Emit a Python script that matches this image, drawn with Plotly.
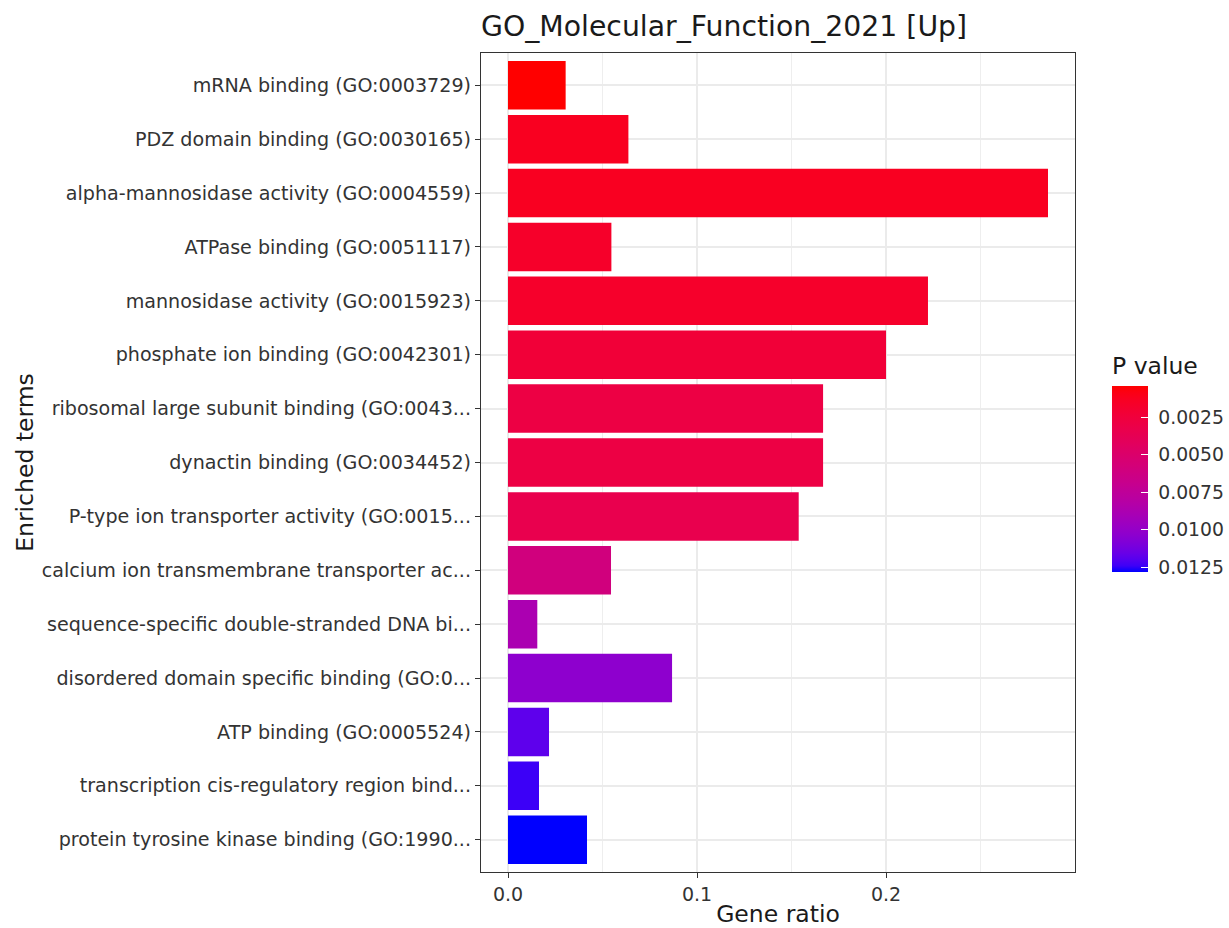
import numpy as np
import plotly.graph_objects as go

# ---------------- data ----------------
terms = [
    "mRNA binding (GO:0003729)",
    "PDZ domain binding (GO:0030165)",
    "alpha-mannosidase activity (GO:0004559)",
    "ATPase binding (GO:0051117)",
    "mannosidase activity (GO:0015923)",
    "phosphate ion binding (GO:0042301)",
    "ribosomal large subunit binding (GO:0043...",
    "dynactin binding (GO:0034452)",
    "P-type ion transporter activity (GO:0015...",
    "calcium ion transmembrane transporter ac...",
    "sequence-specific double-stranded DNA bi...",
    "disordered domain specific binding (GO:0...",
    "ATP binding (GO:0005524)",
    "transcription cis-regulatory region bind...",
    "protein tyrosine kinase binding (GO:1990...",
]
gene_ratio = [0.0305, 0.0637, 0.2857, 0.0547, 0.2222, 0.2000, 0.1667, 0.1667,
              0.1538, 0.0545, 0.0155, 0.0868, 0.0217, 0.0164, 0.0418]
p_value = [0.00043, 0.00125, 0.00130, 0.00168, 0.00172, 0.00230, 0.00290, 0.00292,
           0.00345, 0.00600, 0.00880, 0.01030, 0.01180, 0.01240, 0.01280]
cbar_ticks = [0.0025, 0.0050, 0.0075, 0.0100, 0.0125]
x_ticks = [0.0, 0.1, 0.2]

# ------------- Lab colour ramp (like ggplot's scale_fill_gradient) -------------
def _srgb_to_lin(c):
    c = np.asarray(c, float)
    return np.where(c <= 0.04045, c / 12.92, ((c + 0.055) / 1.055) ** 2.4)

def _lin_to_srgb(c):
    c = np.clip(c, 0, 1)
    return np.where(c <= 0.0031308, 12.92 * c, 1.055 * c ** (1 / 2.4) - 0.055)

M = np.array([[0.4124, 0.3576, 0.1805], [0.2126, 0.7152, 0.0722], [0.0193, 0.1192, 0.9505]])
Minv = np.linalg.inv(M)
WP = np.array([0.95047, 1.0, 1.08883])

def rgb_to_lab(rgb):
    xyz = M @ _srgb_to_lin(np.array(rgb) / 255.0) / WP
    f = np.where(xyz > 0.008856, np.cbrt(xyz), 7.787 * xyz + 16 / 116)
    return np.array([116 * f[1] - 16, 500 * (f[0] - f[1]), 200 * (f[1] - f[2])])

def lab_to_rgb(lab):
    fy = (lab[0] + 16) / 116
    fx = fy + lab[1] / 500
    fz = fy - lab[2] / 200
    f = np.array([fx, fy, fz])
    xyz = np.where(f ** 3 > 0.008856, f ** 3, (f - 16 / 116) / 7.787) * WP
    rgb = _lin_to_srgb(Minv @ xyz)
    r, g, b = (np.round(rgb * 255)).astype(int)
    return f"rgb({r},{g},{b})"

lab_blue = rgb_to_lab([0, 0, 255])
lab_red = rgb_to_lab([255, 0, 0])
n = 31
colorscale = [[i / (n - 1), lab_to_rgb(lab_blue + (lab_red - lab_blue) * i / (n - 1))] for i in range(n)]

# reversed colour axis (low p at top) -> use negative p for the colour channel
neg_p = [-v for v in p_value]

FONT = "DejaVu Sans"
fig = go.Figure()
fig.add_trace(go.Bar(
    x=gene_ratio,
    y=terms,
    orientation="h",
    width=0.9,
    marker=dict(
        color=neg_p,
        colorscale=colorscale,
        cmin=-max(p_value),
        cmax=-min(p_value),
        line=dict(width=0),
        colorbar=dict(
            title=dict(text="P value", side="top", font=dict(family=FONT, size=23.5, color="#1a1a1a")),
            tickvals=[-t for t in cbar_ticks],
            ticktext=["\u00a0" + f"{t:.4f}" for t in cbar_ticks],
            ticks="inside",
            tickcolor="white",
            ticklen=7,
            tickwidth=1,
            tickfont=dict(family=FONT, size=18.8, color="#333333"),
            thickness=36,
            thicknessmode="pixels",
            len=219,
            lenmode="pixels",
            x=(1112 - 481) / 594,
            xanchor="left",
            xpad=0,
            ypad=0,
            y=(872 - 572) / 819,
            yanchor="bottom",
            outlinewidth=0,
        ),
    ),
    showlegend=False,
))

fig.update_layout(
    width=1229,
    height=928,
    margin=dict(l=481, r=154, t=53, b=56, autoexpand=False),
    paper_bgcolor="white",
    plot_bgcolor="white",
    font=dict(family=FONT, color="#1a1a1a"),
    title=dict(
        text="GO_Molecular_Function_2021 [Up]",
        x=0, xref="paper", xanchor="left",
        y=1 - 26 / 928, yref="container", yanchor="middle",
        font=dict(family=FONT, size=28.3, color="#1a1a1a"),
    ),
    bargap=0.1,
)

fig.update_xaxes(
    automargin=False,
    range=[-0.2857 * 0.05, 0.2857 * 1.05],
    tickvals=x_ticks,
    ticktext=[f"{t:.1f}" for t in x_ticks],
    ticks="outside", ticklen=5, tickwidth=1.2, tickcolor="#333333",
    tickfont=dict(family=FONT, size=19, color="#333333"),
    showgrid=True, gridcolor="#EBEBEB", gridwidth=1.8,
    minor=dict(dtick=0.05, tick0=0, showgrid=True, gridcolor="#EEEEEE", gridwidth=1.2, ticks=""),
    showline=True, linecolor="#333333", linewidth=1.3, mirror=True,
    zeroline=False,
    title=dict(text="Gene ratio", font=dict(family=FONT, size=23.5, color="#1a1a1a"), standoff=6),
)
fig.update_yaxes(
    automargin=False,
    type="category",
    categoryorder="array",
    categoryarray=terms,
    range=[len(terms) - 0.4, -0.6],
    ticks="outside", ticklen=5, tickwidth=1.2, tickcolor="#333333",
    tickfont=dict(family=FONT, size=19.1, color="#333333"),
    showgrid=True, gridcolor="#EBEBEB", gridwidth=1.8,
    showline=True, linecolor="#333333", linewidth=1.3, mirror=True,
    zeroline=False,
    title=dict(text="Enriched terms", font=dict(family=FONT, size=23.5, color="#1a1a1a"), standoff=1),
)

fig.write_html(
    "out.html",
    config={"displayModeBar": False},
    post_script="document.body.style.margin='0';document.body.style.padding='0';",
)
